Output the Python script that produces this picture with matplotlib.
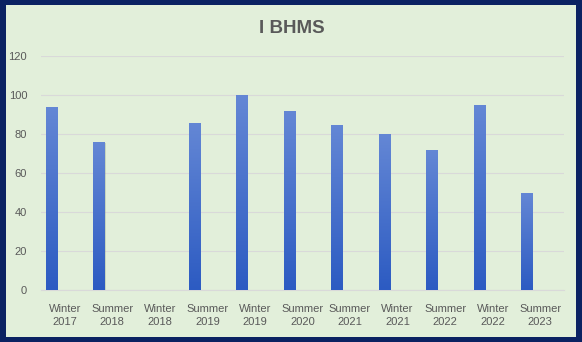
import matplotlib.pyplot as plt
import numpy as np
from matplotlib.colors import LinearSegmentedColormap
from matplotlib.patches import Rectangle

terms = ['Winter\n2017', 'Summer\n2018', 'Winter\n2018', 'Summer\n2019', 'Winter\n2019',
         'Summer\n2020', 'Summer\n2021', 'Winter\n2021', 'Summer\n2022', 'Winter\n2022',
         'Summer\n2023']
scores = [94, 76, 0, 86, 100, 92, 85, 80, 72, 95, 50]
y_ticks = [0, 20, 40, 60, 80, 100, 120]

NAVY = '#0B2262'
PANEL = '#E2EFDA'
TEXT = '#595959'
GRID = '#D9D9D9'

plt.rcParams['font.family'] = ['Liberation Sans', 'DejaVu Sans']

fig = plt.figure(figsize=(5.82, 3.42), dpi=100)
fig.patch.set_facecolor(NAVY)
fig.patches.append(Rectangle((6 / 582, 5 / 342), 570 / 582, 332 / 342,
                             transform=fig.transFigure, facecolor=PANEL,
                             edgecolor='none', zorder=-10))

ax = fig.add_axes([41 / 582, 51.7 / 342, 523 / 582, 234 / 342])
ax.set_facecolor('none')

x = np.arange(len(terms))
offset = -0.28
width = 0.235

# soft shadow behind the bars
ax.bar(x + offset + 0.02, scores, width, bottom=-0.4, color='#8a9a7c', alpha=0.3,
       zorder=2, linewidth=0)
bars = ax.bar(x + offset, scores, width, color='#4A74CC', zorder=3, linewidth=0)

# vertical gradient, light at top, darker at bottom
grad = np.linspace(1, 0, 256).reshape(-1, 1)
cmap = LinearSegmentedColormap.from_list('barg', ['#2C5BC2', '#6487D5'])
for b, v in zip(bars, scores):
    if v <= 0:
        continue
    im = ax.imshow(grad, cmap=cmap, aspect='auto', zorder=4,
                   extent=[b.get_x(), b.get_x() + b.get_width(), 0, v])
    im.set_clip_path(b)

ax.set_xlim(-0.5, len(terms) - 0.5)
ax.set_ylim(0, 120)
ax.set_yticks(y_ticks)
ax.set_xticks(x)
ax.set_xticklabels(terms, fontsize=8, color=TEXT, linespacing=1.4)
ax.tick_params(axis='y', labelsize=8, labelcolor=TEXT, length=0, pad=10)
ax.tick_params(axis='x', length=0, pad=10)
ax.grid(axis='y', color=GRID, linewidth=0.8, zorder=1)
for side in ['top', 'right', 'left']:
    ax.spines[side].set_visible(False)
ax.spines['bottom'].set_color(GRID)
ax.spines['bottom'].set_linewidth(0.8)

fig.text(292 / 582, 1 - 28.5 / 342, 'I BHMS', ha='center', va='center',
         fontsize=13.5, fontweight='bold', color=TEXT)

fig.savefig('out.png', dpi=100, facecolor=fig.get_facecolor())
